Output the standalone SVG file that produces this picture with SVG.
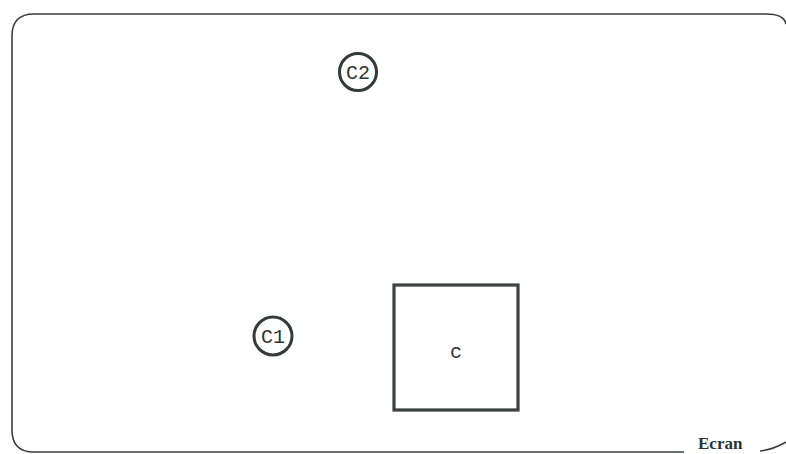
<svg xmlns="http://www.w3.org/2000/svg" width="786" height="454" viewBox="0 0 786 454">
<style>
.frame{fill:none;stroke:#3a3f3e;stroke-width:1.6}
.circ{fill:none;stroke:#333a38;stroke-width:3}
.box{fill:none;stroke:#3a4240;stroke-width:3.2}
.mono{font-family:"Liberation Mono",monospace;font-size:20px;fill:#2e3432;text-anchor:middle}
.lbl{font-family:"Liberation Serif",serif;font-size:17px;fill:#2e3432;font-weight:bold}
</style>
<rect width="786" height="454" fill="#ffffff"/>
<g id="ecran">
<path class="frame" d="M684,452 H34 Q12,452 12,430 V36 Q12,14 34,14 H766 Q784,14 786,24"/>
<path class="frame" d="M760,451 Q772,450 786,442"/>
<text class="lbl" x="698" y="449">Ecran</text>
</g>
<g id="c2">
<circle class="circ" cx="358" cy="72" r="18.5"/>
<text class="mono" x="358" y="79">C2</text>
</g>
<g id="c1">
<circle class="circ" cx="273" cy="336" r="19"/>
<text class="mono" x="273" y="343">C1</text>
</g>
<g id="c">
<rect class="box" x="394" y="285" width="124" height="125"/>
<text class="mono" x="456" y="358">c</text>
</g>
<g id="connectors"></g>
</svg>
